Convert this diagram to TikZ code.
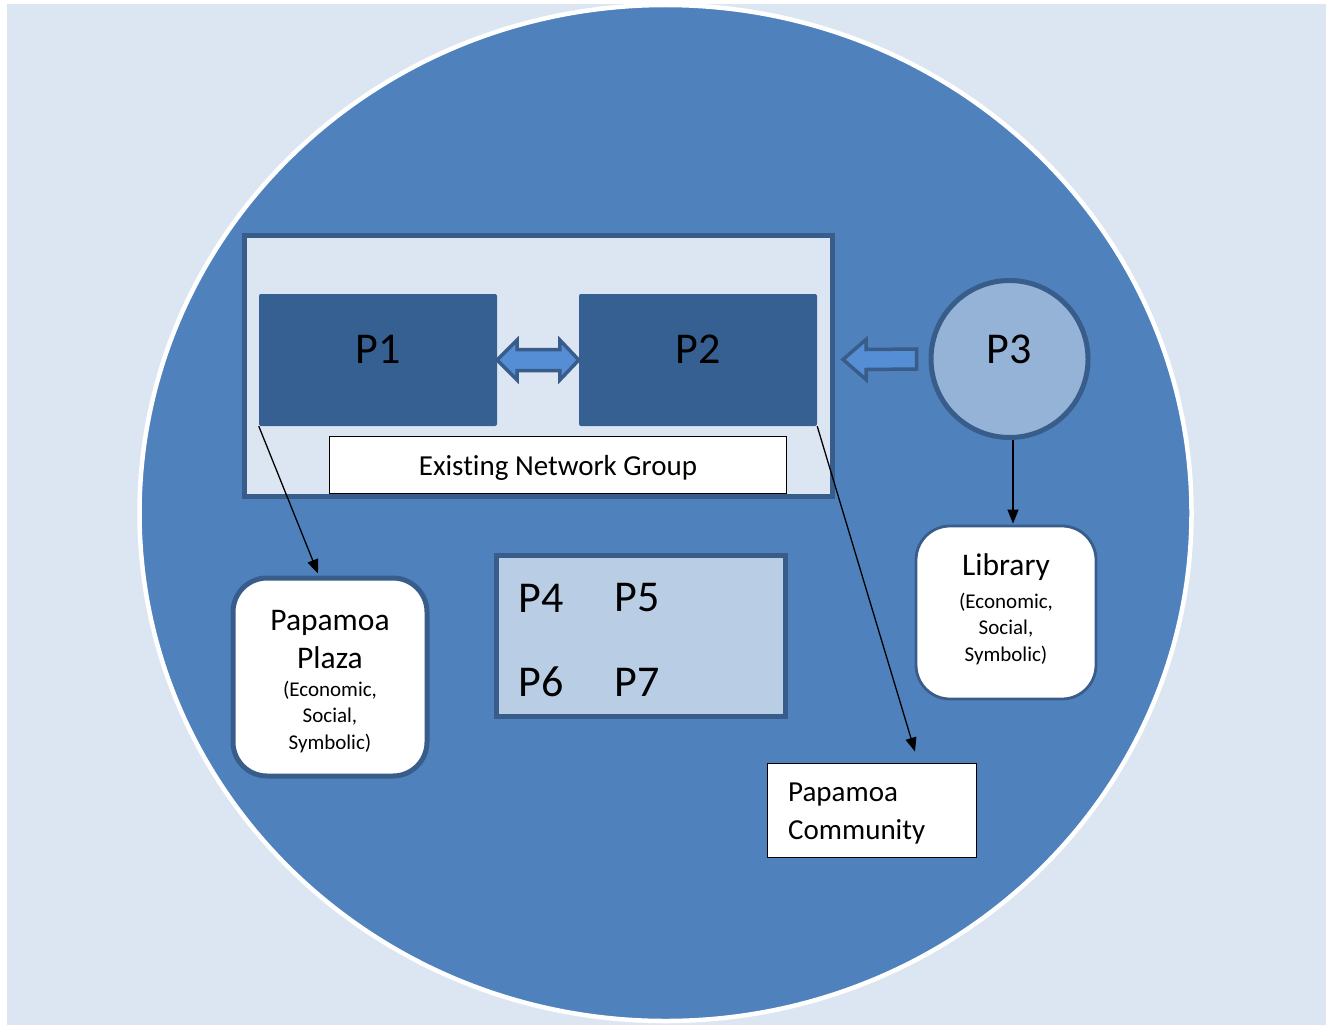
\documentclass[tikz,border=0pt]{standalone}
\usepackage{fontspec}
\setmainfont{Carlito}[Ligatures=NoCommon]
\usetikzlibrary{arrows.meta,calc}
\definecolor{bgpale}{HTML}{DCE6F2}
\definecolor{ringblue}{HTML}{4F81BD}
\definecolor{deepblue}{HTML}{376092}
\definecolor{edgeblue}{HTML}{385D8A}
\definecolor{arrowblue}{HTML}{558ED5}
\definecolor{softblue}{HTML}{95B3D7}
\definecolor{paleblue}{HTML}{B9CDE5}
\tikzset{
  bigtxt/.style={inner sep=0pt, font=\fontsize{44}{44}\selectfont},
  midtxt/.style={inner sep=0pt, align=center, font=\fontsize{31.5}{38}\selectfont},
  smalltxt/.style={inner sep=0pt, align=center, font=\fontsize{21}{26.5}\selectfont},
  playerbox/.style={fill=deepblue, draw=none, rounded corners=2pt, inner sep=0pt,
    minimum width=238pt, minimum height=132pt},
  groupbox/.style={fill=bgpale, draw=edgeblue, line width=5pt, inner sep=0pt},
  placebox/.style={fill=white, draw=edgeblue, rounded corners=34pt, inner sep=0pt},
  plainbox/.style={fill=white, draw=black, line width=1.8pt, inner sep=0pt},
  fatarrow/.style={fill=arrowblue, draw=edgeblue, line width=3.5pt, line join=miter},
  conn/.style={draw=black, line width=1.3pt, -{Triangle[length=14pt,width=11pt]}}
}
\begin{document}
\begin{tikzpicture}[x=1pt,y=-1pt]
\useasboundingbox (0,0) rectangle (1335,1025);
\fill[white] (0,0) rectangle (1335,1025);
\fill[bgpale] (7,4) rectangle (1326,1025);
% the surrounding community ring
\draw[white, line width=4.5pt, fill=ringblue] (665.5,513) ellipse [x radius=526, y radius=508];

% existing network group frame
\node[groupbox, minimum width=588pt, minimum height=261pt] (grp) at (538.5,366) {};
\node[playerbox] (p1) at (378,360) {};
\node[playerbox] (p2) at (698,360) {};
\node[bigtxt] at ($(p1.center)+(0,-11)$) {P1};
\node[bigtxt] at ($(p2.center)+(0,-11)$) {P2};
\node[plainbox, minimum width=457pt, minimum height=57pt] (eng) at (558,465) {};
\node[inner sep=0pt, font=\fontsize{29}{29}\selectfont] at ($(eng.center)+(0,3)$) {Existing Network Group};

% newcomer P3
\node[circle, fill=softblue, draw=edgeblue, line width=5pt, inner sep=0pt,
      minimum size=157pt] (p3) at (1009.5,359) {};
\node[bigtxt] at ($(p3.center)+(0,-10)$) {P3};

% two-way link between P1 and P2
\draw[fatarrow] (p1.east)
  -- ++(20,-20) -- ++(0,9.5) -- ($(p2.west)+(-19,-10.5)$) -- ++(0,-9.5)
  -- (p2.west) -- ++(-19,20) -- ++(0,-9.5) -- ($(p1.east)+(20,10.5)$)
  -- ++(0,9.5) -- cycle;

% one-way link from P3 towards P2
\coordinate (intip) at (843,359.5);
\draw[fatarrow] (intip) -- ++(23,-20) -- ++(0,10) -- ($(p3.west)+(-12,-10)$)
  -- ($(p3.west)+(-12,10)$) -- ($(intip)+(23,10)$) -- ++(0,10) -- cycle;

% remaining players
\node[groupbox, fill=paleblue, minimum width=289pt, minimum height=161pt] (rest) at (641,636) {};
\node[bigtxt] at (541,598) {P4};
\node[bigtxt] at (637,598) {P5};
\node[bigtxt] at (541,682) {P6};
\node[bigtxt] at (637,682) {P7};

% places
\node[placebox, line width=5pt, minimum width=194pt, minimum height=198pt] (plaza) at (330,677) {};
\node[midtxt] at (330,640) {Papamoa\\Plaza};
\node[smalltxt] at (330,717) {(Economic,\\Social,\\Symbolic)};

\node[placebox, line width=2.8pt, minimum width=180pt, minimum height=173pt] (lib) at (1006,612.5) {};
\node[midtxt] at (1006,567.5) {Library};
\node[smalltxt] at (1006,629) {(Economic,\\Social,\\Symbolic)};

\node[plainbox, minimum width=209pt, minimum height=94pt] (comm) at (872,810.5) {};
\node[inner sep=0pt, align=left, anchor=west, font=\fontsize{29}{38}\selectfont]
  at (788,814) {Papamoa\\Community};

% connections to the places
\coordinate (plazatip) at ($(plaza.north)+(-12,-2)$);
\coordinate (commtip) at ($(comm.north)+(43,-11)$);
\draw[conn] (p1.south west) -- (plazatip);
\draw[conn] (p2.south east) -- (commtip);
\draw[conn] ($(p3.south)+(3.5,0)$) -- ($(lib.north)+(7,-1)$);
\end{tikzpicture}
\end{document}
